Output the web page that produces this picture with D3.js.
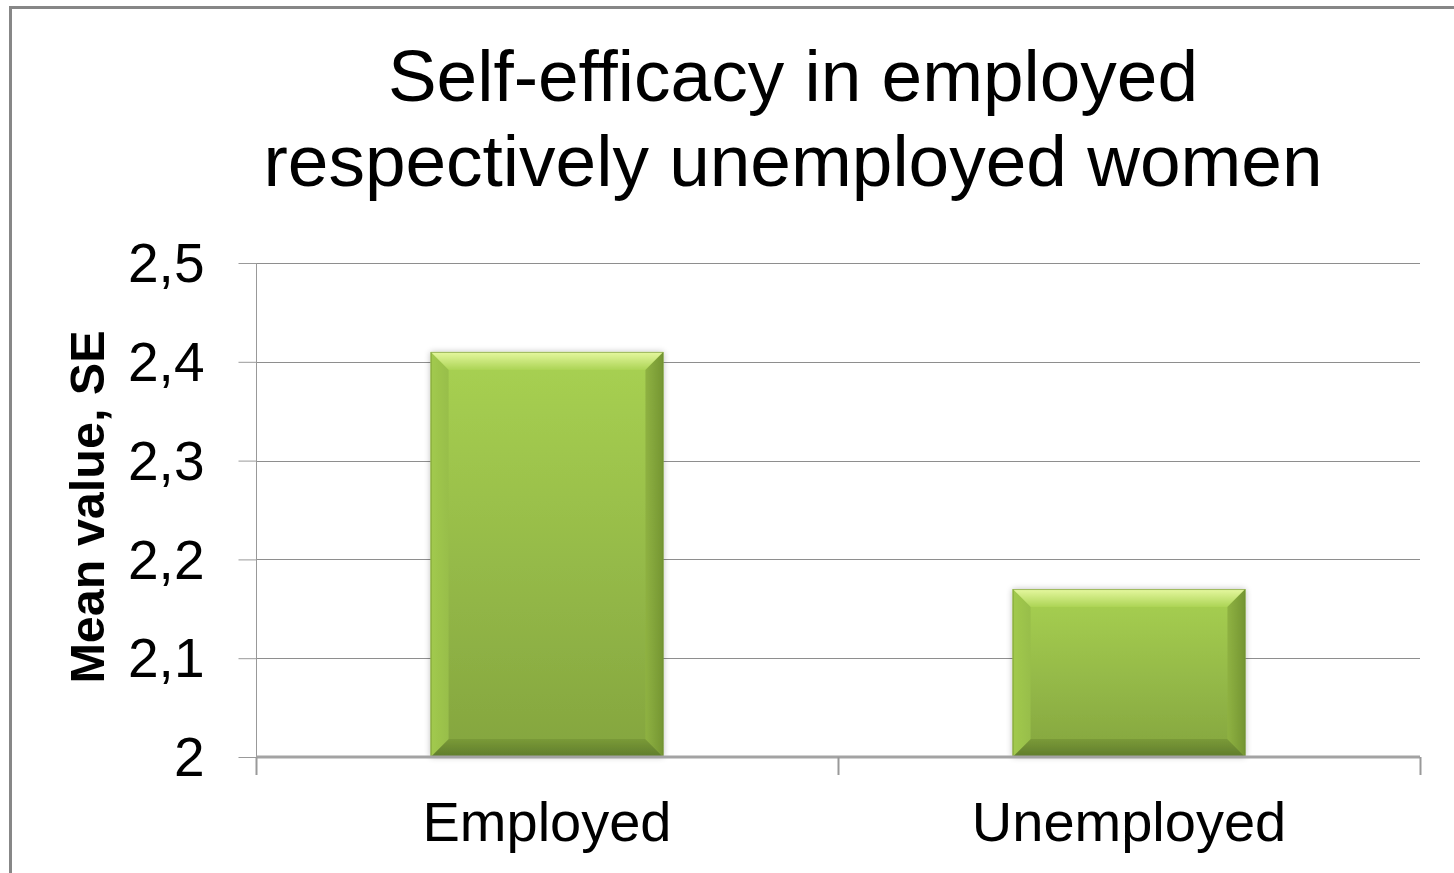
<!DOCTYPE html>
<html>
<head>
<meta charset="utf-8">
<script src="https://cdn.jsdelivr.net/npm/d3@7"></script>
<style>
  body { margin: 0; background: #fff; }
  svg { display: block; font-family: "Liberation Sans", Arial, sans-serif; }
</style>
</head>
<body>
<svg id="chart" width="1454" height="873"></svg>
<script>
"use strict";

// Chart data
const categories = ["Employed", "Unemployed"];
const meanValues = [2.41, 2.17];
const yTicks = [2, 2.1, 2.2, 2.3, 2.4, 2.5];
const titleLines = ["Self-efficacy in employed", "respectively unemployed women"];
const yTitle = "Mean value, SE";

const svg = d3.select("#chart");
const margin = {top: 263, right: 34, bottom: 116, left: 256};
const width = 1454 - margin.left - margin.right;
const height = 873 - margin.top - margin.bottom;

// Outer frame
svg.append("rect")
    .attr("x", 10.5)
    .attr("y", 7.5)
    .attr("width", 1500)
    .attr("height", 1000)
    .attr("fill", "none")
    .attr("stroke", "#878787")
    .attr("stroke-width", 3);

// Title
svg.append("text")
    .attr("x", 793)
    .attr("y", 101)
    .attr("text-anchor", "middle")
    .style("font-size", "73px")
    .selectAll("tspan")
    .data(titleLines)
  .enter().append("tspan")
    .attr("x", 793)
    .attr("dy", (d, i) => i === 0 ? 0 : 85)
    .text(d => d);

const x = d3.scaleBand()
    .domain(categories)
    .range([0, width])
    .paddingInner(0.6)
    .paddingOuter(0.3);

const xCat = d3.scaleBand()
    .domain(categories)
    .range([0, width]);

const y = d3.scaleLinear()
    .domain([2, 2.5])
    .range([height, 0]);

const g = svg.append("g")
    .attr("transform", "translate(" + margin.left + "," + margin.top + ")");

// Gridlines
g.append("g")
    .selectAll("line")
    .data(yTicks.slice(1))
  .enter().append("line")
    .attr("x1", 0)
    .attr("x2", width)
    .attr("y1", d => Math.round(y(d)) + 0.5)
    .attr("y2", d => Math.round(y(d)) + 0.5)
    .attr("stroke", "#8e8e8e");

// Y axis
const yAxis = g.append("g")
    .attr("transform", "translate(0.5,0)")
    .call(d3.axisLeft(y)
      .tickValues(yTicks)
      .tickSize(18)
      .tickPadding(34)
      .tickFormat(d => d3.format(".1~f")(d).replace(".", ",")));
yAxis.select(".domain").attr("stroke", "#999").attr("d", "M0," + y(2.5) + "V" + height);
yAxis.selectAll(".tick line").attr("stroke", "#999");
yAxis.selectAll(".tick text")
    .attr("fill", "#000")
    .style("font-size", "55px")
    .style("font-family", "'Liberation Sans', Arial, sans-serif")
    .attr("dy", "0.34em");

// Y title
svg.append("text")
    .attr("transform", "translate(104," + (margin.top + height / 2 - 3) + ") rotate(-90)")
    .attr("text-anchor", "middle")
    .style("font-size", "48.5px")
    .style("font-weight", "bold")
    .text(yTitle);

// Bars
const defs = svg.append("defs");

function addGradient(id, stops, x2, y2) {
  const lg = defs.append("linearGradient")
      .attr("id", id)
      .attr("x1", 0).attr("y1", 0)
      .attr("x2", x2).attr("y2", y2);
  stops.forEach(s => lg.append("stop")
      .attr("offset", s[0])
      .attr("stop-color", s[1]));
}

addGradient("barBody", [["0%", "#a8d152"], ["100%", "#84a53f"]], 0, 1);
addGradient("barTop", [["0%", "#e6f8a0"], ["100%", "#acd455"]], 0, 1);
addGradient("barBottom", [["0%", "#7a9a38"], ["100%", "#5f7c2b"]], 0, 1);
addGradient("barLeft", [["0%", "#a2ca4e"], ["100%", "#98be4a"]], 1, 0);
addGradient("barRight", [["0%", "#8fb242"], ["100%", "#749532"]], 1, 0);

const shadow = defs.append("filter")
    .attr("id", "barShadow")
    .attr("x", "-10%").attr("y", "-10%")
    .attr("width", "120%").attr("height", "120%");
shadow.append("feGaussianBlur").attr("in", "SourceAlpha").attr("stdDeviation", 3);
shadow.append("feComponentTransfer").append("feFuncA").attr("type", "linear").attr("slope", 0.25);
const merge = shadow.append("feMerge");
merge.append("feMergeNode");
merge.append("feMergeNode").attr("in", "SourceGraphic");

const bevel = 18;

const bars = g.selectAll(".bar")
    .data(categories.map((c, i) => ({cat: c, value: meanValues[i]})))
  .enter().append("g")
    .attr("class", "bar")
    .attr("filter", "url(#barShadow)");

bars.each(function(d) {
  const bx = x(d.cat);
  const bw = x.bandwidth();
  const by = y(d.value);
  const bh = y(2) - by;
  const sel = d3.select(this);
  const b = Math.min(bevel, bh / 2);

  sel.append("rect")
      .attr("x", bx).attr("y", by)
      .attr("width", bw).attr("height", bh)
      .attr("fill", "url(#barBody)");

  const poly = (pts, fill) => sel.append("polygon")
      .attr("points", pts.map(p => p.join(",")).join(" "))
      .attr("fill", fill);

  poly([[bx, by], [bx + bw, by], [bx + bw - b, by + b], [bx + b, by + b]], "url(#barTop)");
  poly([[bx, by + bh], [bx + bw, by + bh], [bx + bw - b, by + bh - b], [bx + b, by + bh - b]], "url(#barBottom)");
  poly([[bx, by], [bx + b, by + b], [bx + b, by + bh - b], [bx, by + bh]], "url(#barLeft)");
  poly([[bx + bw, by], [bx + bw - b, by + b], [bx + bw - b, by + bh - b], [bx + bw, by + bh]], "url(#barRight)");

  sel.append("rect")
      .attr("x", bx + 0.5).attr("y", by + 0.5)
      .attr("width", bw - 1).attr("height", bh - 1)
      .attr("fill", "none")
      .attr("stroke", "#6f8f34")
      .attr("stroke-opacity", 0.6);
});

// X axis
const xAxisG = g.append("g")
    .attr("transform", "translate(0," + height + ")");

xAxisG.append("line")
    .attr("x1", 0).attr("x2", width)
    .attr("y1", 0).attr("y2", 0)
    .attr("stroke", "#a3a3a3")
    .attr("stroke-width", 3);

xAxisG.selectAll(".xtick")
    .data([0, ...categories.map(c => xCat(c) + xCat.bandwidth())])
  .enter().append("line")
    .attr("class", "xtick")
    .attr("x1", d => d + 0.5).attr("x2", d => d + 0.5)
    .attr("y1", 0).attr("y2", 18)
    .attr("stroke", "#999")
    .attr("stroke-width", 2);

xAxisG.selectAll(".xlabel")
    .data(categories)
  .enter().append("text")
    .attr("class", "xlabel")
    .attr("x", d => xCat(d) + xCat.bandwidth() / 2)
    .attr("y", 84)
    .attr("text-anchor", "middle")
    .style("font-size", "56px")
    .text(d => d);
</script>
</body>
</html>
